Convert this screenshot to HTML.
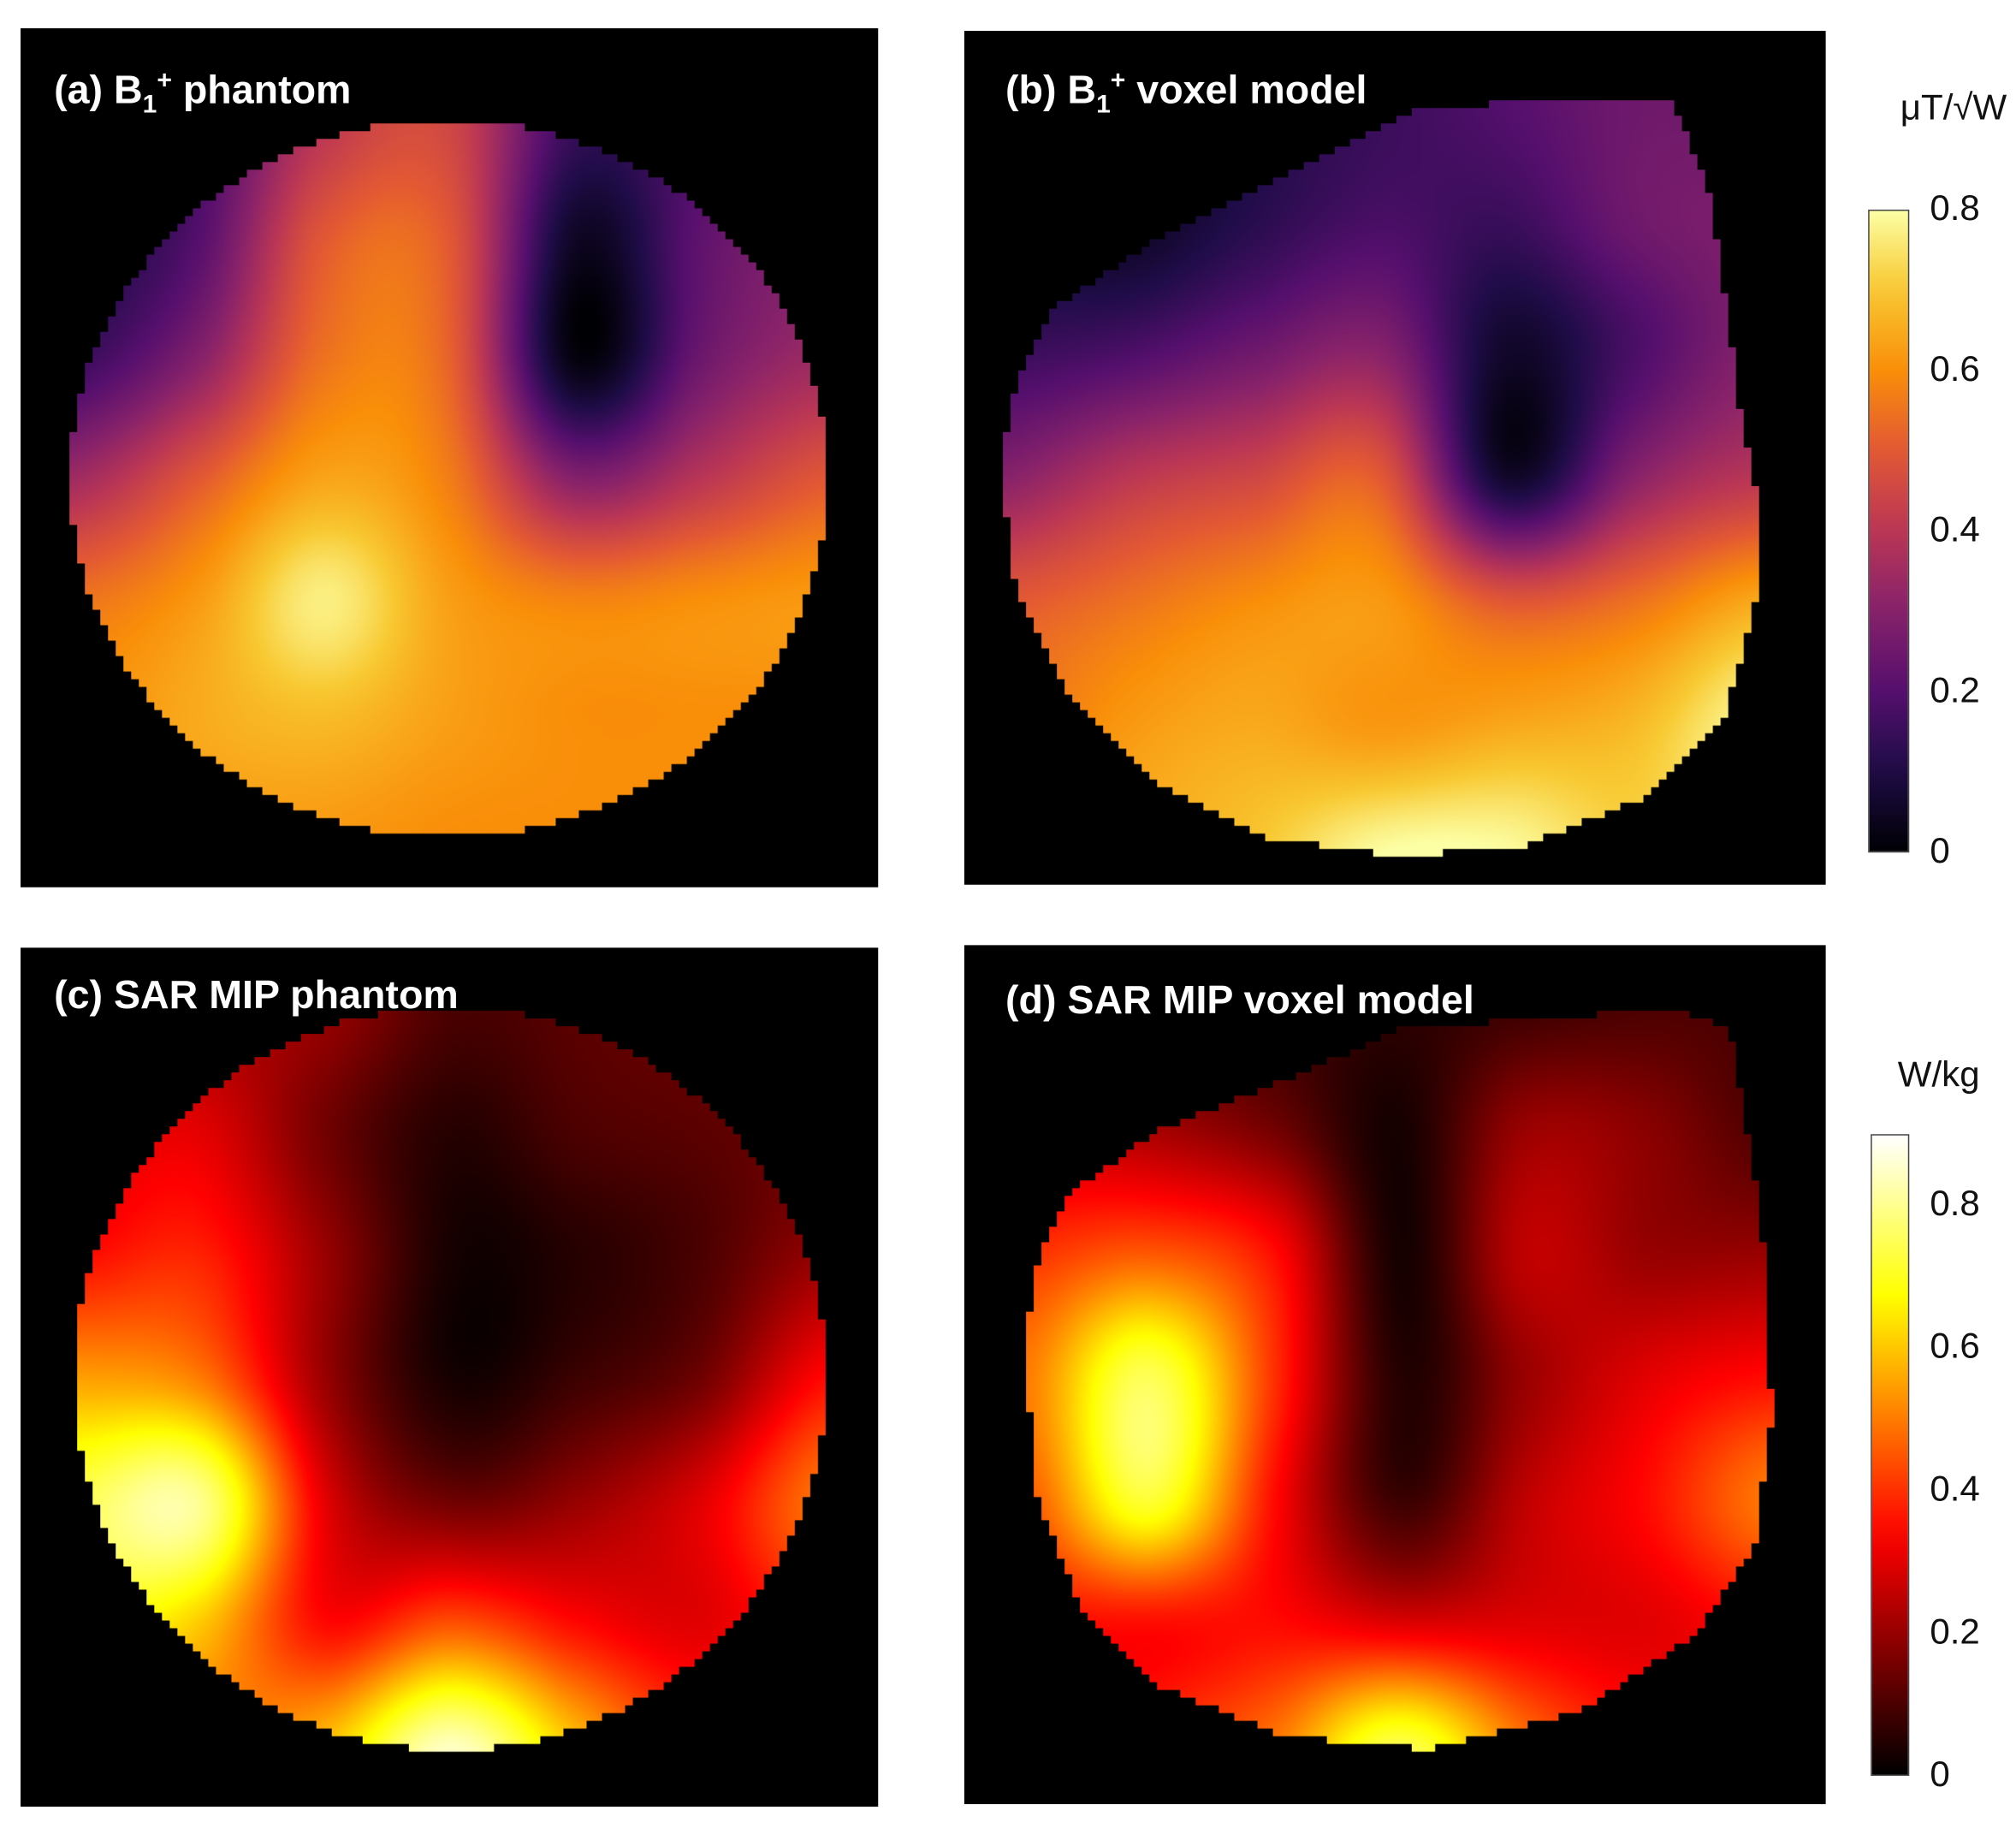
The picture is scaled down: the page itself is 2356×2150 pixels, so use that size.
<!DOCTYPE html>
<html><head><meta charset="utf-8"><style>
html,body{margin:0;padding:0;background:#fff;}
#root{position:relative;width:1568px;height:1431px;transform:scale(1.50255);transform-origin:0 0;font-family:"Liberation Sans",sans-serif;}
.panel{position:absolute;background:#000;}
.title{position:absolute;color:#fff;font-weight:bold;font-size:31px;white-space:nowrap;}
.cb{position:absolute;border:1.5px solid #444;box-sizing:border-box;}
.tick{position:absolute;font-size:28px;color:#111;}
.unit{position:absolute;font-size:28px;color:#111;white-space:nowrap;}
canvas{position:absolute;left:0;top:0;}
</style></head><body>
<div id="root">
  <div class="panel" id="pa" style="left:16px;top:22px;width:667px;height:668px;"></div>
  <div class="panel" id="pb" style="left:750px;top:24px;width:670px;height:664px;"></div>
  <div class="panel" id="pc" style="left:16px;top:737px;width:667px;height:668px;"></div>
  <div class="panel" id="pd" style="left:750px;top:735px;width:670px;height:668px;"></div>

  <div class="title" style="left:42px;top:52px;">(a) B<sub style="font-size:20px">1</sub><sup style="font-size:20px">+</sup> phantom</div>
  <div class="title" style="left:782px;top:52px;">(b) B<sub style="font-size:20px">1</sub><sup style="font-size:20px">+</sup> voxel model</div>
  <div class="title" style="left:42px;top:756px;">(c) SAR MIP phantom</div>
  <div class="title" style="left:782px;top:760px;">(d) SAR MIP voxel model</div>

  <div class="unit" style="left:1478px;top:68px;">μT/√W</div>
  <div class="cb" id="cb1" style="left:1453px;top:163px;width:32px;height:500px;"></div>
  <div class="unit" style="left:1476px;top:820px;">W/kg</div>
  <div class="cb" id="cb2" style="left:1455px;top:882px;width:30px;height:499px;"></div>
</div>
<script>
const b1Ticks=[0,0.2,0.4,0.6,0.8];
const b1Max=0.8;
const sarTicks=[0,0.2,0.4,0.6,0.8];
const sarMax=0.9;
const gridA=[
[0.12,0.18,0.4,0.45,0.15,0.2,0.25],
[0.1,0.2,0.5,0.5,0.05,0.22,0.3],
[0.15,0.3,0.55,0.52,0.02,0.25,0.35],
[0.35,0.5,0.64,0.57,0.3,0.4,0.5],
[0.55,0.62,0.77,0.63,0.58,0.6,0.62],
[0.6,0.65,0.68,0.63,0.6,0.6,0.6],
[0.6,0.62,0.62,0.6,0.6,0.6,0.6]];
const gridB=[
[0.1,0.1,0.12,0.15,0.2,0.25,0.25],
[0.08,0.05,0.12,0.18,0.15,0.25,0.28],
[0.15,0.18,0.25,0.3,0.06,0.18,0.3],
[0.3,0.4,0.45,0.5,0.06,0.3,0.4],
[0.5,0.55,0.6,0.62,0.5,0.55,0.65],
[0.55,0.62,0.65,0.62,0.65,0.68,0.8],
[0.6,0.65,0.7,0.8,0.8,0.72,0.75]];
const gridC=[
[0.2,0.22,0.2,0.1,0.12,0.15,0.2],
[0.28,0.3,0.15,0.05,0.1,0.12,0.15],
[0.35,0.38,0.2,0.03,0.05,0.1,0.2],
[0.55,0.5,0.2,0.03,0.08,0.15,0.35],
[0.75,0.8,0.3,0.15,0.2,0.3,0.5],
[0.7,0.6,0.35,0.45,0.35,0.3,0.4],
[0.6,0.5,0.6,0.85,0.6,0.4,0.4]];
const gridD=[
[0.1,0.1,0.08,0.06,0.08,0.1,0.1],
[0.25,0.22,0.15,0.03,0.2,0.18,0.1],
[0.4,0.45,0.35,0.03,0.25,0.2,0.2],
[0.5,0.75,0.4,0.05,0.2,0.3,0.35],
[0.45,0.72,0.35,0.08,0.25,0.35,0.5],
[0.35,0.35,0.35,0.3,0.3,0.3,0.35],
[0.3,0.4,0.5,0.75,0.5,0.35,0.3]];

const inferno=[[0,[0,0,4]],[.13,[31,12,72]],[.25,[85,15,109]],[.38,[136,34,106]],[.5,[186,54,85]],[.63,[227,89,51]],[.75,[249,142,9]],[.88,[248,201,50]],[1,[252,255,164]]];
const hot=[[0,[0,0,0]],[.375,[255,0,0]],[.75,[255,255,0]],[1,[255,255,255]]];
function cmap(m,t){t=Math.max(0,Math.min(1,t));for(let i=1;i<m.length;i++){if(t<=m[i][0]){const a=m[i-1],b=m[i],f=(t-a[0])/(b[0]-a[0]);return a[1].map((v,k)=>v+(b[1][k]-v)*f);}}return m[m.length-1][1];}
function cr(p0,p1,p2,p3,t){return 0.5*((2*p1)+(-p0+p2)*t+(2*p0-5*p1+4*p2-p3)*t*t+(-p0+3*p1-3*p2+p3)*t*t*t);}
function sample(g,u,v){const n=g.length-1,m=g[0].length-1;let x=Math.max(0,Math.min(m,u*m)),y=Math.max(0,Math.min(n,v*n));
const i=Math.min(m-1,Math.floor(x)),j=Math.min(n-1,Math.floor(y));const fx=x-i,fy=y-j;
const G=(r,c)=>g[Math.max(0,Math.min(n,r))][Math.max(0,Math.min(m,c))];
const rows=[];for(let r=-1;r<=2;r++){rows.push(cr(G(j+r,i-1),G(j+r,i),G(j+r,i+1),G(j+r,i+2),fx));}
return cr(rows[0],rows[1],rows[2],rows[3],fy);}
function inPoly(p,x,y){let c=false;for(let i=0,j=p.length-1;i<p.length;j=i++){const [xi,yi]=p[i],[xj,yj]=p[j];if(((yi>y)!=(yj>y))&&(x<(xj-xi)*(y-yi)/(yj-yi)+xi))c=!c;}return c;}
function circlePoly(cx,cy,rx,ry){const p=[];for(let a=0;a<64;a++){const t=a/64*2*Math.PI;p.push([cx+rx*Math.cos(t),cy+ry*Math.sin(t)]);}return p;}
function draw(id,name,grid,max,map,bbox,poly){
  const el=document.getElementById(id);const W=el.offsetWidth,H=el.offsetHeight;const L=el.offsetLeft,T=el.offsetTop;
  const step=6; const cv=document.createElement('canvas');cv.width=W*2;cv.height=H*2;cv.style.width=W+'px';cv.style.height=H+'px';
  
  
  const ctx=cv.getContext('2d');ctx.scale(2,2);
  for(let y=0;y<H;y+=1){for(let x=0;x<W;x+=1){
    const px=L+x,py=T+y;
    const cx=Math.floor(px/step)*step+step/2,cy=Math.floor(py/step)*step+step/2;
    if(!inPoly(poly,cx,cy))continue;
    const u=(px-bbox[0])/(bbox[2]-bbox[0]),v=(py-bbox[1])/(bbox[3]-bbox[1]);
    const c=cmap(map,sample(grid,u,v)/max);
    ctx.fillStyle='rgb('+c.map(Math.round).join(',')+')';ctx.fillRect(x,y,1.2,1.2);
  }}
  el.appendChild(cv);
}
draw('pa','b1-phantom-map',gridA,b1Max,inferno,[55,95,643,650],circlePoly(349,372,295,279));
draw('pb','b1-voxel-map',gridB,b1Max,inferno,[778,75,1368,665],[[790,300],[820,240],[900,185],[1020,125],[1110,82],[1300,78],[1330,150],[1355,330],[1368,390],[1365,470],[1340,560],[1280,620],[1180,660],[1080,665],[980,650],[900,610],[830,540],[790,460],[778,360]]);
draw('pc','sar-phantom-map',gridC,sarMax,hot,[58,783,643,1360],circlePoly(350,1072,293,289));
draw('pd','sar-voxel-map',gridD,sarMax,hot,[797,780,1378,1360],[[830,930],[900,880],[1000,840],[1090,800],[1300,785],[1345,800],[1370,950],[1378,1100],[1365,1200],[1320,1270],[1230,1330],[1110,1360],[1000,1350],[900,1310],[840,1250],[805,1160],[797,1040],[810,970]]);

function colorbar(id,map,ticks,max,prefix){
  const el=document.getElementById(id);const H=el.offsetHeight,W=el.offsetWidth;
  const stops=[];for(let i=0;i<=20;i++){const c=cmap(map,i/20);stops.push('rgb('+c.map(Math.round).join(',')+') '+(i*5)+'%');}
  el.style.background='linear-gradient(to top,'+stops.join(',')+')';
  const root=document.getElementById('root');
  ticks.forEach(t=>{const d=document.createElement('div');d.className='tick';
    
    
    d.textContent=t===0?'0':t.toFixed(1);
    const y=el.offsetTop+H-(t/max)*H;d.style.left=(el.offsetLeft+W+16)+'px';d.style.top=(y-17)+'px';root.appendChild(d);});
}
colorbar('cb1',inferno,b1Ticks,b1Max,'b1');
colorbar('cb2',hot,sarTicks,sarMax,'sar');
</script>
</body></html>
